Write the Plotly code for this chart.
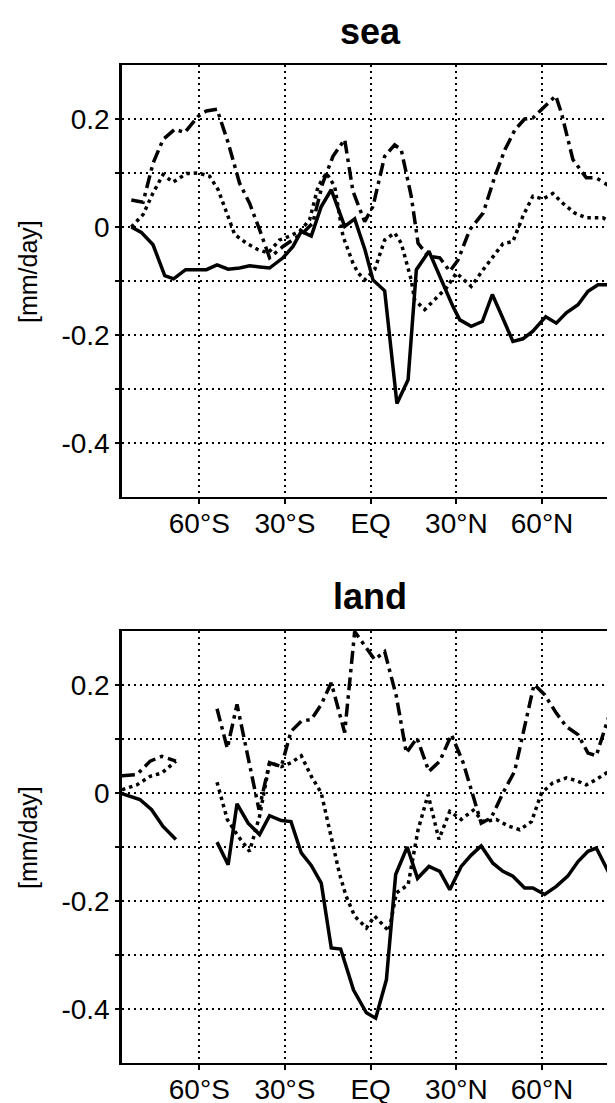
import plotly.graph_objects as go

# ---------------- data ----------------
xtick_vals = [-60, -30, 0, 30, 60]
xtick_text = ["60°S", "30°S", "EQ", "30°N", "60°N"]
ytick_vals = [-0.4, -0.3, -0.2, -0.1, 0.0, 0.1, 0.2]
ytick_text = ["-0.4", "", "-0.2", "", "0", "", "0.2"]

# sea
sea_solid_lat = [-83.8, -80.3, -76.2, -72.1, -69.0, -64.8, -61.2, -57.5, -53.8, -49.9, -45.9, -42.4,
                 -38.9, -35.4, -30.7, -27.2, -24.3, -20.8, -17.3, -13.8, -9.1, -5.6, -2.0, 0.8, 4.9,
                 9.2, 13.1, 16.0, 20.4, 24.6, 28.8, 31.2, 35.2, 39.1, 42.6, 46.2, 49.8, 53.3, 56.8,
                 61.3, 65.0, 68.5, 72.6, 76.1, 79.6, 83.1, 85.6]
sea_solid_val = [0.0, -0.01, -0.033, -0.09, -0.096, -0.079, -0.079, -0.079, -0.070, -0.078, -0.076, -0.072,
                 -0.074, -0.076, -0.057, -0.036, -0.008, -0.017, 0.038, 0.069, 0.001, 0.015, -0.042, -0.098, -0.118,
                 -0.327, -0.283, -0.079, -0.045, -0.096, -0.147, -0.172, -0.184, -0.175, -0.125, -0.168, -0.212, -0.207, -0.193,
                 -0.166, -0.178, -0.159, -0.144, -0.119, -0.107, -0.107, -0.091]

sea_dashdot_lat = [-83.8, -79.7, -76.2, -72.7, -68.6, -65.1, -60.4, -57.5, -53.8, -49.9, -45.9, -42.4,
                   -38.9, -35.4, -30.7, -27.2, -23.7, -20.3, -16.8, -13.2, -9.1, -6.2, -2.1, 0.8, 4.9,
                   8.4, 10.7, 14.2, 16.6, 20.1, 24.2, 27.7, 30.6, 34.7, 39.4, 43.5, 47.0, 50.5, 53.9,
                   56.8, 60.3, 64.8, 66.8, 70.8, 75.5, 79.0, 82.3, 85.6, 88.0]
sea_dashdot_val = [0.05, 0.046, 0.118, 0.162, 0.181, 0.175, 0.205, 0.215, 0.218, 0.156, 0.081, 0.044,
                   -0.005, -0.057, -0.036, -0.024, -0.011, 0.007, 0.081, 0.131, 0.162, 0.066, 0.010, 0.038, 0.131,
                   0.152, 0.143, 0.057, -0.030, -0.054, -0.057, -0.082, -0.061, -0.005, 0.026, 0.094, 0.143, 0.180, 0.200,
                   0.202, 0.220, 0.243, 0.211, 0.125, 0.091, 0.091, 0.080, 0.069, 0.060]

sea_dotted_lat = [-83.8, -79.7, -76.2, -72.7, -69.2, -64.5, -60.4, -56.4, -53.4, -49.9, -47.6, -43.5,
                  -39.4, -35.9, -31.9, -28.4, -24.9, -21.4, -18.4, -15.5, -12.6, -9.7, -6.2, -4.4, -2.1,
                  1.4, 4.9, 8.4, 10.7, 14.2, 15.4, 18.9, 23.0, 26.5, 30.0, 35.2, 39.4, 42.8, 46.3,
                  49.8, 53.3, 56.8, 60.3, 63.8, 67.3, 71.4, 75.5, 81.3, 85.6, 88.0]
sea_dotted_val = [0.0, 0.023, 0.063, 0.097, 0.083, 0.099, 0.100, 0.094, 0.069, 0.020, -0.014, -0.030,
                  -0.042, -0.048, -0.024, -0.017, -0.008, 0.013, 0.075, 0.100, 0.075, -0.017, -0.067, -0.085, -0.098,
                  -0.079, -0.024, -0.011, -0.030, -0.098, -0.135, -0.153, -0.132, -0.113, -0.085, -0.110, -0.079, -0.054, -0.031,
                  -0.027, 0.020, 0.057, 0.052, 0.062, 0.044, 0.026, 0.017, 0.017, 0.007, 0.000]

# land (None = no data)
land_solid_lat = [-87.1, -80.8, -76.7, -72.7, -68.2, -61.0, -53.8, -49.9, -46.8, -42.9, -38.9, -35.4,
                  -31.3, -27.9, -24.3, -20.8, -17.3, -13.8, -10.5, -6.0, -1.5, 1.75, 5.5, 8.75, 12.8,
                  16.4, 20.4, 24.2, 27.7, 31.7, 35.2, 38.7, 42.8, 46.3, 49.8, 53.9, 56.8, 60.9, 65.0,
                  69.0, 72.6, 76.1, 79.0, 83.4]
land_solid_val = [-0.001, -0.012, -0.031, -0.062, -0.086, None, -0.091, -0.133, -0.020, -0.056, -0.077, -0.042,
                  -0.051, -0.053, -0.111, -0.134, -0.167, -0.287, -0.289, -0.365, -0.407, -0.417, -0.346, -0.151, -0.100,
                  -0.158, -0.136, -0.145, -0.179, -0.136, -0.115, -0.098, -0.130, -0.145, -0.154, -0.176, -0.176, -0.188, -0.173,
                  -0.154, -0.127, -0.108, -0.102, -0.148]

land_dashdot_lat = [-87.1, -81.9, -77.2, -73.1, -68.2, -61.0, -53.8, -50.2, -46.8, -43.5, -39.1, -35.4,
                    -31.3, -27.9, -24.3, -20.8, -17.3, -13.8, -9.1, -5.6, 1.4, 4.9, 9.0, 12.5, 16.2,
                    20.4, 24.2, 28.3, 32.4, 35.9, 38.7, 42.2, 46.3, 50.4, 53.3, 57.2, 60.9, 65.0, 68.5,
                    72.6, 76.1, 79.0, 83.4]
land_dashdot_val = [0.032, 0.034, 0.059, 0.068, 0.059, None, 0.156, 0.083, 0.164, 0.083, -0.031, 0.056,
                    0.049, 0.114, 0.133, 0.136, 0.164, 0.204, 0.112, 0.299, 0.247, 0.262, 0.179, 0.074, 0.102,
                    0.040, 0.059, 0.108, 0.056, -0.006, -0.056, -0.046, 0.000, 0.040, 0.111, 0.201, 0.182, 0.148, 0.123,
                    0.108, 0.074, 0.069, 0.142]

land_dotted_lat = [-87.1, -81.9, -77.2, -73.1, -68.2, -61.0, -53.8, -50.2, -46.4, -42.4, -38.9, -35.4,
                   -31.3, -27.9, -24.3, -20.8, -17.3, -13.8, -10.9, -8.6, -5.6, -1.5, 1.4, 6.4, 9.0,
                   13.1, 16.6, 20.1, 23.9, 27.7, 31.7, 35.9, 39.4, 44.0, 48.1, 52.2, 56.3, 59.8, 63.8,
                   68.5, 72.0, 75.5, 79.0, 83.4]
land_dotted_val = [0.006, 0.015, 0.031, 0.037, 0.059, None, 0.020, -0.049, -0.080, -0.108, -0.043, 0.056,
                   0.049, 0.056, 0.069, 0.031, 0.000, -0.086, -0.150, -0.191, -0.228, -0.250, -0.228, -0.256, -0.185,
                   -0.170, -0.068, -0.003, -0.086, -0.034, -0.049, -0.032, -0.053, -0.049, -0.061, -0.068, -0.053, 0.000, 0.019,
                   0.028, 0.023, 0.015, 0.025, 0.040]

# ---------------- figure ----------------
FONT = "Liberation Sans, Arial, sans-serif"
LW = 3.5
DASHDOT = "13px,5px,3.5px,5px"
DOTTED = "3.5px,4px"

fig = go.Figure()

def add_series(lat, val, dash, xa, ya):
    fig.add_trace(go.Scatter(x=lat, y=val, mode="lines", xaxis=xa, yaxis=ya,
                             line=dict(color="black", width=LW, dash=dash),
                             connectgaps=False, showlegend=False, hoverinfo="skip"))

add_series(sea_solid_lat, sea_solid_val, "solid", "x", "y")
add_series(sea_dashdot_lat, sea_dashdot_val, DASHDOT, "x", "y")
add_series(sea_dotted_lat, sea_dotted_val, DOTTED, "x", "y")
add_series(land_solid_lat, land_solid_val, "solid", "x2", "y2")
add_series(land_dashdot_lat, land_dashdot_val, DASHDOT, "x2", "y2")
add_series(land_dotted_lat, land_dotted_val, DOTTED, "x2", "y2")

# The page body adds an 8px offset; margins compensate so the plot sits where it should.
OFF = 8
W, H = 615, 1103
L, T, B, R = 122 - OFF, 65 - OFF, H + OFF - 1063, 0
PW = W - L - R          # 501
PH = H - T - B          # 998

def py(pix):
    return (1063 - pix) / PH

def px(pix):
    return (pix - 122) / PW

xax = dict(range=[-87.07, 88.35], tickmode="array", tickvals=xtick_vals, ticktext=xtick_text,
           showgrid=True, gridcolor="black", gridwidth=1.5, griddash="2px,4px",
           showline=True, linecolor="black", linewidth=2, mirror=True,
           ticks="outside", ticklen=5, tickwidth=1.5, tickcolor="black", ticklabelstandoff=-5,
           tickfont=dict(family=FONT, size=28, color="black"), zeroline=False, fixedrange=True)
yax = dict(range=[-0.5, 0.3], tickmode="array", tickvals=ytick_vals, ticktext=ytick_text,
           showgrid=True, gridcolor="black", gridwidth=1.5, griddash="2px,4px",
           showline=True, linecolor="black", linewidth=2.5, mirror=False,
           ticks="outside", ticklen=4, tickwidth=1.5, tickcolor="black",
           tickfont=dict(family=FONT, size=28, color="black"), zeroline=False, fixedrange=True)

fig.update_layout(
    width=W, height=H,
    margin=dict(l=L, r=R, t=T, b=B, autoexpand=False),
    paper_bgcolor="white", plot_bgcolor="white",
    xaxis=dict(xax, domain=[0, 1], anchor="y"),
    yaxis=dict(yax, domain=[py(497), 1.0], anchor="x"),
    xaxis2=dict(xax, domain=[0, 1], anchor="y2"),
    yaxis2=dict(yax, domain=[0.0, py(631)], anchor="x2"),
)

annos = [
    dict(text="<b>sea</b>", x=px(370), y=py(9), yanchor="top"),
    dict(text="<b>land</b>", x=px(370), y=py(574), yanchor="top"),
]
for a in annos:
    fig.add_annotation(xref="paper", yref="paper", xanchor="center", showarrow=False,
                       font=dict(family=FONT, size=36, color="black"), **a)

for yc in (272, 838):
    fig.add_annotation(text="[mm/day]", xref="paper", yref="paper", x=px(28), y=py(yc),
                       xanchor="center", yanchor="middle", textangle=-90, showarrow=False,
                       font=dict(family=FONT, size=25, color="black"))

fig.write_html("out.html")
